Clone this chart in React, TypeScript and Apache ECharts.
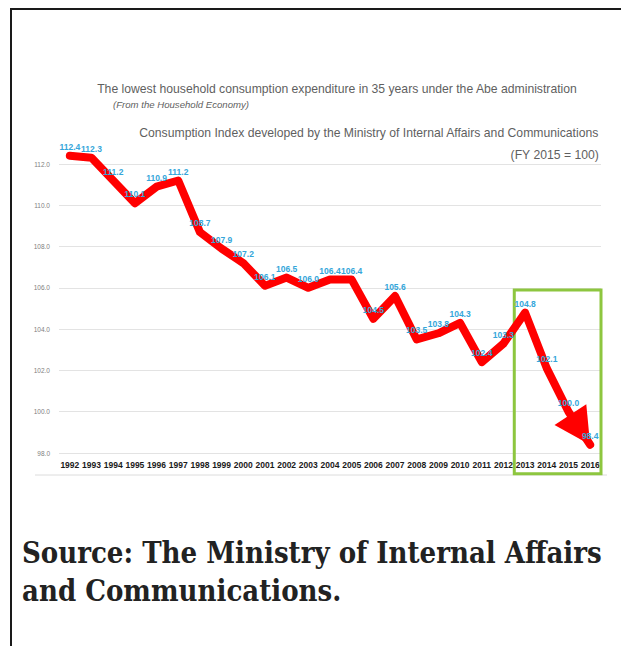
import React, { useEffect, useRef } from "react";
import * as echarts from "echarts";

const years = [
  "1992", "1993", "1994", "1995", "1996", "1997", "1998", "1999", "2000",
  "2001", "2002", "2003", "2004", "2005", "2006", "2007", "2008", "2009",
  "2010", "2011", "2012", "2013", "2014", "2015", "2016",
];
const indexValues = [
  112.4, 112.3, 111.2, 110.1, 110.9, 111.2, 108.7, 107.9, 107.2, 106.1, 106.5,
  106.0, 106.4, 106.4, 104.5, 105.6, 103.5, 103.8, 104.3, 102.4, 103.3, 104.8,
  102.1, 100.0, 98.4,
];
const yMin = 98;
const yMax = 112;
const yInterval = 2;
const highlightFrom = "2013";
const highlightTo = "2016";
const highlightTopValue = 105.9;
const highlightBottomValue = 97.0;

const mainTitle =
  "The lowest household consumption expenditure in 35 years under the Abe administration";
const subTitle = "(From the Household Economy)";
const indexTitle =
  "Consumption Index developed by the Ministry of Internal Affairs and Communications";
const baseNote = "(FY 2015 = 100)";
const sourceText = "Source: The Ministry of Internal Affairs and Communications.";

const SANS = "Liberation Sans, Arial, sans-serif";

export default function App() {
  const ref = useRef<HTMLDivElement>(null);

  useEffect(() => {
    if (!ref.current) return;
    const chart = echarts.init(ref.current, null, { renderer: "svg" });
    const option: any = {
      animation: false,
      title: [
        {
          text: mainTitle,
          left: 320,
          top: 68,
          textAlign: "center",
          textStyle: { fontSize: 12.2, fontWeight: "normal", color: "#5f5f5f", fontFamily: SANS },
        },
        {
          text: subTitle,
          left: 96,
          top: 84,
          textStyle: { fontSize: 9.6, fontStyle: "italic", fontWeight: "normal", color: "#5f5f5f", fontFamily: SANS },
        },
        {
          text: indexTitle,
          right: 8,
          top: 112,
          textStyle: { fontSize: 12.2, fontWeight: "normal", color: "#5f5f5f", fontFamily: SANS },
        },
        {
          text: baseNote,
          right: 8,
          top: 134,
          textStyle: { fontSize: 12.2, fontWeight: "normal", color: "#5f5f5f", fontFamily: SANS },
        },
      ],
      grid: { left: 47, right: 11, top: 154, bottom: 32 },
      xAxis: {
        type: "category",
        data: years,
        boundaryGap: true,
        axisLine: { show: false },
        axisTick: { show: false },
        axisLabel: {
          interval: 0,
          fontSize: 8.5,
          fontWeight: "bold",
          color: "#1a1a1a",
          fontFamily: SANS,
          margin: 7,
        },
      },
      yAxis: {
        type: "value",
        min: yMin,
        max: yMax,
        interval: yInterval,
        axisLine: { show: false },
        axisTick: { show: false },
        axisLabel: {
          formatter: (v: number) => v.toFixed(1),
          fontSize: 6.5,
          color: "#808080",
          fontFamily: SANS,
          margin: 9,
        },
        splitLine: { lineStyle: { color: "#e3e3e3", width: 1 } },
      },
      series: [
        {
          type: "line",
          data: indexValues,
          z: 3,
          clip: false,
          symbol: "circle",
          symbolSize: 1,
          showSymbol: true,
          itemStyle: { color: "#ff0000" },
          lineStyle: { color: "#ff0000", width: 8, cap: "round", join: "round" },
          label: {
            show: true,
            position: "top",
            distance: 4,
            fontSize: 8.5,
            fontWeight: "bold",
            color: "#35a6da",
            fontFamily: SANS,
            formatter: (p: any) => Number(p.value).toFixed(1),
          },
        },
      ],
    };
    chart.setOption(option);

    const n = years.length;
    const pA = chart.convertToPixel({ gridIndex: 0 }, [n - 2, indexValues[n - 2]]) as number[];
    const pB = chart.convertToPixel({ gridIndex: 0 }, [n - 1, indexValues[n - 1]]) as number[];
    const dx = pB[0] - pA[0];
    const dy = pB[1] - pA[1];
    const len = Math.sqrt(dx * dx + dy * dy) || 1;
    const ux = dx / len;
    const uy = dy / len;
    const headH = 36;
    const rot = (Math.atan2(-ux, -uy) * 180) / Math.PI;

    const iFrom = years.indexOf(highlightFrom);
    const iTo = years.indexOf(highlightTo);
    const x0 = (chart.convertToPixel({ gridIndex: 0 }, [0, yMin]) as number[])[0];
    const x1 = (chart.convertToPixel({ gridIndex: 0 }, [1, yMin]) as number[])[0];
    const band = x1 - x0;
    const bl = chart.convertToPixel({ gridIndex: 0 }, [iFrom, highlightTopValue]) as number[];
    const br = chart.convertToPixel({ gridIndex: 0 }, [iTo, highlightBottomValue]) as number[];
    const left = bl[0] - band / 2;
    const right = br[0] + band / 2;
    const axisY = (chart.convertToPixel({ gridIndex: 0 }, [0, yMin]) as number[])[1];

    chart.setOption({
      series: [
        {},
        {
          type: "scatter",
          z: 2,
          clip: false,
          silent: true,
          data: [[n - 1, indexValues[n - 1]]],
          symbol: "triangle",
          symbolSize: [38, headH],
          symbolRotate: rot,
          symbolOffset: [-ux * headH / 2, -uy * headH / 2],
          itemStyle: { color: "#ff0000", opacity: 1 },
        },
      ],
      graphic: [
        {
          type: "line",
          z: 0,
          shape: { x1: 23, y1: axisY + 22, x2: 595, y2: axisY + 22 },
          style: { stroke: "#dcdcdc", lineWidth: 1 },
        },
        {
          type: "rect",
          z: 1,
          shape: { x: left, y: bl[1], width: right - left, height: br[1] - bl[1] },
          style: { fill: "none", stroke: "#8dc63f", lineWidth: 3 },
        },
      ],
    });

    return () => chart.dispose();
  }, []);

  return (
    <div
      style={{
        position: "fixed",
        left: 10,
        top: 8,
        right: 0,
        bottom: 0,
        borderTop: "2px solid #1a1a1a",
        borderLeft: "2px solid #1a1a1a",
        overflow: "hidden",
        background: "#ffffff",
      }}
    >
      <div ref={ref} style={{ width: 600, height: 475 }} />
      <div
        style={{
          fontFamily: "'DejaVu Serif Condensed', 'DejaVu Serif', serif",
          fontStretch: "condensed",
          fontWeight: "bold",
          fontSize: 29,
          lineHeight: "38px",
          color: "#222222",
          paddingLeft: 10,
          marginTop: 49,
          width: 600,
        }}
      >
        {sourceText}
      </div>
    </div>
  );
}
